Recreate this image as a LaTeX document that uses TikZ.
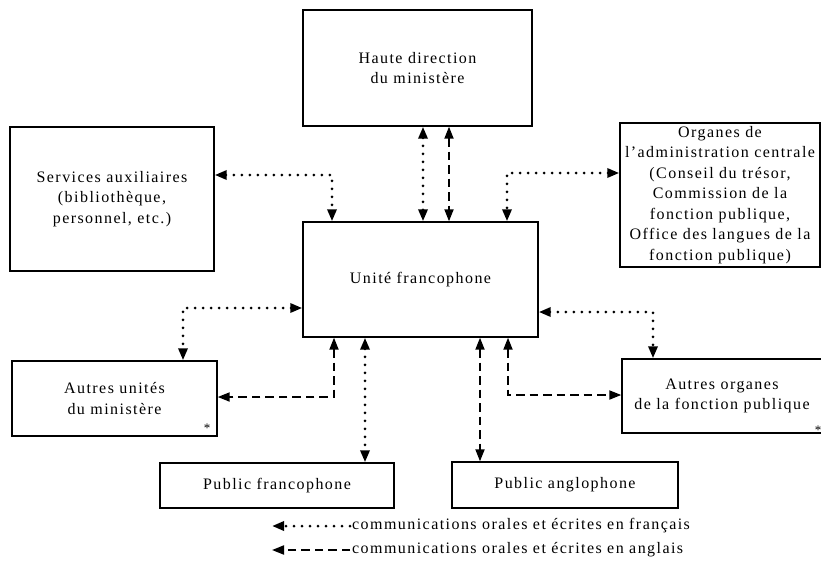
\documentclass[tikz,border=0pt]{standalone}
\usepackage{fontspec}
\setmainfont{Liberation Serif}[LetterSpace=9]
\usetikzlibrary{arrows.meta}
\begin{document}
\begin{tikzpicture}[x=1pt,y=-1pt,
  box/.style={draw,line width=1.4pt,inner sep=0pt,align=center,font=\fontsize{16}{20.5}\selectfont},
  dots/.style={line width=3pt,line cap=round,dash pattern=on 0pt off 8pt},
  dashes/.style={line width=1.9pt,dash pattern=on 8.5pt off 5pt},
  arr/.style={arrows={Triangle[length=12pt,width=9pt]-Triangle[length=12pt,width=9pt]}},
  onearr/.style={arrows={-Triangle[length=12pt,width=9pt]}},
  txt/.style={inner sep=0pt,font=\fontsize{16}{20.5}\selectfont}]
\useasboundingbox (0,0) rectangle (821,560);
% boxes
\node[box,minimum width=229pt,minimum height=116pt] (haute) at (417.5,68) {Haute direction\\du ministère};
\node[box,minimum width=204pt,minimum height=144pt] (serv) at (112,199) {Services auxiliaires\\(bibliothèque,\\personnel, etc.)};
\node[box,minimum width=200pt,minimum height=144pt] (org) at (720,195) {Organes de\\l’administration centrale\\(Conseil du trésor,\\Commission de la\\fonction publique,\\Office des langues de la\\fonction publique)};
\node[box,minimum width=235pt,minimum height=115pt] (unite) at (420.5,279.5) {Unité francophone};
\node[box,minimum width=205pt,minimum height=75pt] (autun) at (114.5,398.5) {Autres unités\\du ministère};
\node[box,minimum width=200pt,minimum height=74pt] (autorg) at (722,396) {Autres organes\\de la fonction publique};
\node[box,minimum width=234pt,minimum height=45pt] (pubfr) at (277,485.5) {Public francophone};
\node[box,minimum width=226pt,minimum height=46pt] (pubang) at (565,485) {Public anglophone};
\node[inner sep=0pt,font=\fontsize{13}{13}\selectfont] (ast1) at (207,428) {*};
\node[inner sep=0pt,font=\fontsize{13}{13}\selectfont] (ast2) at (818,430) {*};
% routing points
\coordinate (c1) at (423,0);
\coordinate (c2) at (449,0);
\coordinate (b1) at (332,175);
\coordinate (b2) at (507,173);
\coordinate (b3) at (183,308);
\coordinate (b4) at (334,397);
\coordinate (c3) at (365,0);
\coordinate (c4) at (480,0);
\coordinate (b5) at (508,395);
\coordinate (b6) at (653,312);
% connectors
\draw[dots,arr] (haute.south -| c1) -- (unite.north -| c1);
\draw[dashes,arr] (haute.south -| c2) -- (unite.north -| c2);
\draw[dots,arr] (serv.east |- b1) -- (b1) -- (b1 |- unite.north);
\draw[dots,arr] (org.west |- b2) -- (b2) -- (b2 |- unite.north);
\draw[dots,arr] (unite.west |- b3) -- (b3) -- (b3 |- autun.north);
\draw[dashes,arr] (b4 |- unite.south) -- (b4) -- (b4 -| autun.east);
\draw[dots,arr] (unite.south -| c3) -- (pubfr.north -| c3);
\draw[dashes,arr] (unite.south -| c4) -- (pubang.north -| c4);
\draw[dashes,arr] (b5 |- unite.south) -- (b5) -- (b5 -| autorg.west);
\draw[dots,arr] (unite.east |- b6) -- (b6) -- (b6 |- autorg.north);
% legend
\node[txt,anchor=west] (leg1) at (352,526) {communications orales et écrites en français};
\node[txt,anchor=west] (leg2) at (352,550) {communications orales et écrites en anglais};
\coordinate (l1) at (272,526);
\coordinate (l2) at (272,550);
\draw[dots,onearr] ([xshift=-2pt]leg1.west) -- (l1);
\draw[dashes,onearr] ([xshift=-2pt]leg2.west) -- (l2);
\end{tikzpicture}
\end{document}
